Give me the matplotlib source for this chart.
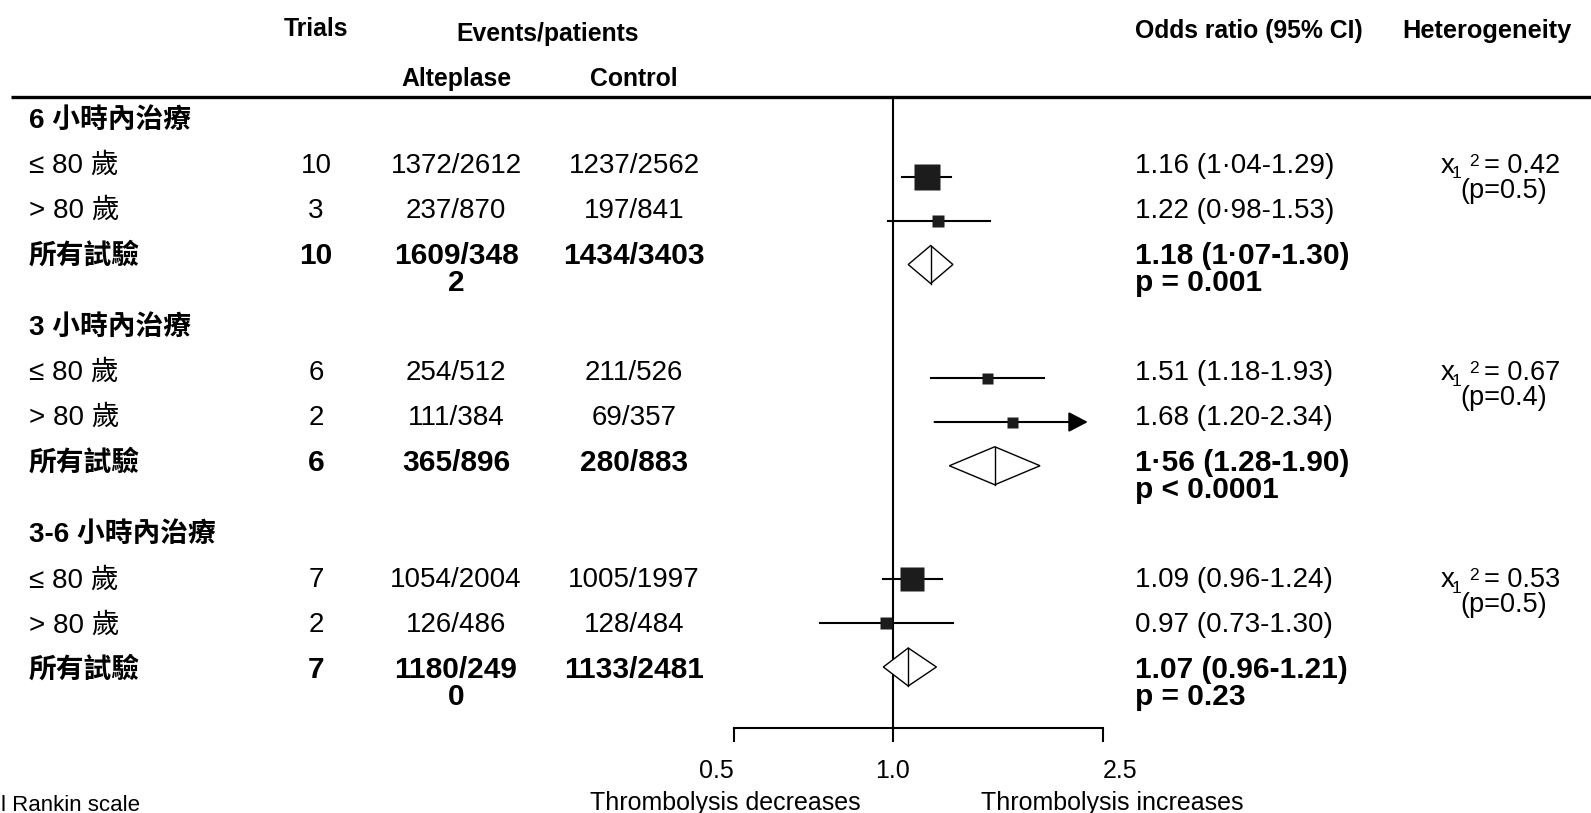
import matplotlib
matplotlib.use("Agg")
import matplotlib.pyplot as plt
from matplotlib.patches import Polygon
from matplotlib.ticker import FixedLocator, NullLocator

plt.rcParams['font.family'] = ['Liberation Sans', 'Noto Sans CJK TC', 'DejaVu Sans']

# ---- table data ----
groups = ["6 小時內治療", "3 小時內治療", "3-6 小時內治療"]
row_labels = ["≤ 80 歲", "> 80 歲", "所有試驗"]
trials = [[10, 3, 10], [6, 2, 6], [7, 2, 7]]
alt_events = [[1372, 237, 1609], [254, 111, 365], [1054, 126, 1180]]
alt_patients = [[2612, 870, 3482], [512, 384, 896], [2004, 486, 2490]]
ctl_events = [[1237, 197, 1434], [211, 69, 280], [1005, 128, 1133]]
ctl_patients = [[2562, 841, 3403], [526, 357, 883], [1997, 484, 2481]]

odds = [[1.16, 1.22, 1.18], [1.51, 1.68, 1.56], [1.09, 0.97, 1.07]]
ci_low = [[1.04, 0.98, 1.07], [1.18, 1.20, 1.28], [0.96, 0.73, 0.96]]
ci_high = [[1.29, 1.53, 1.30], [1.93, 2.34, 1.90], [1.24, 1.30, 1.21]]
or_labels = [["1.16 (1·04-1.29)", "1.22 (0·98-1.53)", "1.18 (1·07-1.30)"],
             ["1.51 (1.18-1.93)", "1.68 (1.20-2.34)", "1·56 (1.28-1.90)"],
             ["1.09 (0.96-1.24)", "0.97 (0.73-1.30)", "1.07 (0.96-1.21)"]]
pooled_p = ["p = 0.001", "p < 0.0001", "p = 0.23"]
het_chi2 = ["0.42", "0.67", "0.53"]
het_p = ["0.5", "0.4", "0.5"]

xticks = [0.5, 1.0, 2.5]
xtick_labels = ["0.5", "1.0", "2.5"]

# box size (px) for each subgroup estimate, CI drawn as arrow where flagged
box_px = [[26, 12], [11, 11], [24, 12]]
ci_arrow = [[False, False], [False, True], [False, False]]

W, H = 1591, 813
ROW0, ROW_STEP, GROUP_GAP = 163.0, 45.04, 1.6
LINE_GAP = 27
TEXT_DY = 3  # va='center' sits a little high on digits
COL_LABEL, COL_TRIALS, COL_ALT, COL_CTL, COL_OR, COL_HET = 29, 316, 456, 634, 1135, 1441
NUM_SIZE, BOLD_NUM_SIZE, HEAD_SIZE = 20, 21.5, 17.8

fig = plt.figure(figsize=(W / 100, H / 100), dpi=100)
tab = fig.add_axes([0, 0, 1, 1])
tab.set_xlim(0, W)
tab.set_ylim(H, 0)
tab.axis('off')

# forest panel: log odds-ratio axis, its rows sit on a slightly tighter pitch
PANEL_L, PANEL_R = 733.6, 1103.0
PANEL_TOP, PANEL_SCALE = 18.7, 0.9713
ax = fig.add_axes([PANEL_L / W, 1 - (PANEL_TOP + PANEL_SCALE * H) / H,
                   (PANEL_R - PANEL_L) / W, PANEL_SCALE])
ax.set_xscale('log')
ax.set_xlim(0.5, 2.5)
ax.set_ylim(H, 0)
ax.patch.set_visible(False)


def to_panel(py):
    return (py - PANEL_TOP) / PANEL_SCALE


def cell(x, y, s, ha='center', bold=False, size=NUM_SIZE):
    for k, line in enumerate(s.split("\n")):
        tab.text(x, y + TEXT_DY + k * LINE_GAP, line, ha=ha, va='center', fontsize=size,
                 fontweight='bold' if bold else 'normal', color='black')


def wrap(s, width):
    return s if len(s) <= width else s[:width] + "\n" + s[width:]


# header
cell(COL_TRIALS, 26.5, "Trials", bold=True, size=HEAD_SIZE)
cell(548, 31, "Events/patients", bold=True, size=HEAD_SIZE)
cell(COL_ALT, 76, "Alteplase", bold=True, size=HEAD_SIZE)
cell(COL_CTL, 76, "Control", bold=True, size=HEAD_SIZE)
cell(COL_OR, 28, "Odds ratio (95% CI)", ha='left', bold=True, size=HEAD_SIZE)
cell(1487, 28, "Heterogeneity", bold=True, size=18.3)
tab.plot([11, W], [97, 97], color='black', lw=2.4, solid_capstyle='butt')

r = 0.0
for g, name in enumerate(groups):
    cell(COL_LABEL, ROW0 + (r - 1) * ROW_STEP, name, ha='left', bold=True)
    for i, lab in enumerate(row_labels):
        r += 1
        y = ROW0 + (r - 1) * ROW_STEP
        total = i == 2
        num_size = BOLD_NUM_SIZE if total else NUM_SIZE
        alt = f"{alt_events[g][i]}/{alt_patients[g][i]}"
        ctl = f"{ctl_events[g][i]}/{ctl_patients[g][i]}"
        cell(COL_LABEL, y, lab, ha='left', bold=total)
        cell(COL_TRIALS, y, str(trials[g][i]), bold=total, size=num_size)
        cell(COL_ALT, y, wrap(alt, 8) if total else alt, bold=total, size=num_size)
        cell(COL_CTL, y, ctl, bold=total, size=num_size)
        txt = or_labels[g][i] + ("\n" + pooled_p[g] if total else "")
        cell(COL_OR, y, txt, ha='left', bold=total, size=num_size)

        est, lo, hi = odds[g][i], ci_low[g][i], ci_high[g][i]
        if total:
            h = 38 / PANEL_SCALE
            ax.add_patch(Polygon([(lo, y), (est, y - h / 2), (hi, y), (est, y + h / 2)],
                                 closed=True, facecolor='white', edgecolor='black',
                                 lw=1.0, clip_on=False, zorder=3))
            ax.plot([est, est], [y - h / 2, y + h / 2], color='black', lw=1.0,
                    clip_on=False, zorder=4)
        else:
            if ci_arrow[g][i]:
                ax.annotate("", xy=(hi, y), xytext=(lo, y),
                            arrowprops=dict(arrowstyle='-|>,head_length=0.65,head_width=0.34',
                                            color='black', lw=1.5, shrinkA=0, shrinkB=0,
                                            mutation_scale=18), zorder=2)
            else:
                ax.plot([lo, hi], [y, y], color='black', lw=1.5, clip_on=False, zorder=2)
            ax.plot(est, y, marker='s', ms=box_px[g][i] * 0.72, color='#1c1c1c',
                    mec='none', clip_on=False, zorder=3)

        if i == 0:
            hy = y + TEXT_DY
            tab.text(COL_HET, hy, "x", ha='left', va='center', fontsize=20)
            tab.text(COL_HET + 11, hy + 8, "1", ha='left', va='center', fontsize=12.5)
            tab.text(COL_HET + 28, hy - 5, "2", ha='left', va='center', fontsize=12.5)
            tab.text(COL_HET + 43, hy, "= " + het_chi2[g], ha='left', va='center', fontsize=19.5)
            tab.text(1504, hy + 25, f"(p={het_p[g]})", ha='center', va='center', fontsize=19.5)
    r += GROUP_GAP

# axis, reference line and labels
for s in ['top', 'right', 'left']:
    ax.spines[s].set_visible(False)
ax.spines['bottom'].set_position(('data', to_panel(728)))
ax.spines['bottom'].set_linewidth(1.5)
ax.set_yticks([])
ax.xaxis.set_major_locator(FixedLocator(xticks))
ax.xaxis.set_minor_locator(NullLocator())
ax.set_xticklabels(xtick_labels)
ax.tick_params(axis='x', direction='out', length=10, width=1.5, pad=12, labelsize=18)
ticklabs = ax.get_xticklabels()
ticklabs[0].set_ha('right')
ticklabs[2].set_ha('left')
ax.plot([1.0, 1.0], [to_panel(99), to_panel(728)], color='black', lw=1.5, zorder=1)

tab.text(725, 803, "Thrombolysis decreases", ha='center', va='center', fontsize=18)
tab.text(1112, 803, "Thrombolysis increases", ha='center', va='center', fontsize=18)
tab.text(1, 805, "l Rankin scale", ha='left', va='center', fontsize=16)

fig.savefig("out.png", dpi=100)
